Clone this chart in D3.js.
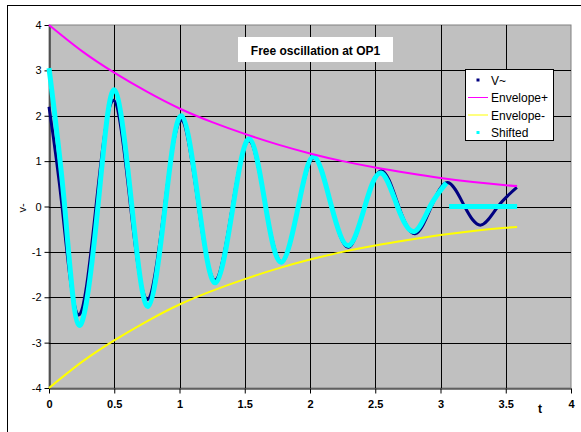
<!DOCTYPE html>
<meta charset='utf-8'>
<style type="text/css">
	body { margin: 0; background: #fff; }
	svg { display: block; font-family: "Liberation Sans", Arial, sans-serif; }
</style>
<body>
<div class="chart"></div>
<script src='https://cdn.jsdelivr.net/npm/d3@7/dist/d3.min.js'></script>
<script>

// V~ (start, zero crossings, extrema)
var vT   = [0, 0.1, 0.225, 0.36, 0.495, 0.625, 0.755, 0.885, 1.015, 1.145, 1.275, 1.405, 1.535, 1.66, 1.785, 1.91, 2.035, 2.165, 2.295, 2.42, 2.55, 2.68, 2.805, 2.93, 3.055, 3.185, 3.31, 3.44, 3.585];
var vVal = [2.2, 0, -2.39, 0, 2.34, 0, -2.05, 0, 1.9, 0, -1.62, 0, 1.45, 0, -1.22, 0, 1.08, 0, -0.9, 0, 0.79, 0, -0.6, 0, 0.53, 0, -0.41, 0, 0.42];

// Shifted
var sT   = [0, 0.12, 0.232, 0.375, 0.5, 0.635, 0.76, 0.89, 1.015, 1.15, 1.276, 1.41, 1.536, 1.66, 1.78, 1.91, 2.03, 2.165, 2.296, 2.42, 2.543, 2.67, 2.798, 2.92, 3.045];
var sVal = [3.05, 0, -2.62, 0, 2.57, 0, -2.2, 0, 2.0, 0, -1.68, 0, 1.49, 0, -1.23, 0, 1.1, 0, -0.86, 0, 0.74, 0, -0.55, 0, 0.52];
var sTailT   = [3.066, 3.587];
var sTailVal = [0, 0];

// envelopes
var envT     = [0, 0.25, 0.5, 0.75, 1, 1.25, 1.5, 1.75, 2, 2.25, 2.5, 2.75, 3, 3.25, 3.5, 3.587];
var envPlus  = [4, 3.43, 2.95, 2.53, 2.16, 1.86, 1.6, 1.37, 1.17, 1.0, 0.86, 0.74, 0.63, 0.54, 0.47, 0.45];
var envMinus = [-4, -3.43, -2.95, -2.53, -2.16, -1.86, -1.6, -1.37, -1.17, -1.0, -0.86, -0.74, -0.63, -0.54, -0.47, -0.45];

var xTicks = [0, 0.5, 1, 1.5, 2, 2.5, 3, 3.5, 4];
var yTicks = [-4, -3, -2, -1, 0, 1, 2, 3, 4];
var legendNames = ['V~', 'Envelope+', 'Envelope-', 'Shifted'];
var colors = ['#000080', '#FF00FF', '#FFFF00', '#00FFFF'];

var svg = d3.select('.chart')
	.append('svg')
	.attr('width', 581)
	.attr('height', 432);

var x = d3.scaleLinear().domain([0, 4]).range([49, 571]);
var y = d3.scaleLinear().domain([-4, 4]).range([388, 25]);

// chart border
svg.append('rect')
	.attr('x', 7.5).attr('y', 5.5)
	.attr('width', 700).attr('height', 600)
	.attr('fill', 'white')
	.attr('stroke', 'black');

// plot area
svg.append('rect')
	.attr('x', x(0)).attr('y', y(4))
	.attr('width', x(4) - x(0)).attr('height', y(-4) - y(4))
	.attr('fill', '#C0C0C0')
	.attr('stroke', '#808080');

// grid
svg.append('g').selectAll('line')
	.data(xTicks.filter(function(d){ return d > 0 && d < 4; }))
	.enter().append('line')
	.attr('x1', function(d){ return Math.round(x(d)) + 0.5; })
	.attr('x2', function(d){ return Math.round(x(d)) + 0.5; })
	.attr('y1', y(4)).attr('y2', y(-4))
	.attr('stroke', 'black');

svg.append('g').selectAll('line')
	.data(yTicks.filter(function(d){ return d > -4 && d < 4; }))
	.enter().append('line')
	.attr('y1', function(d){ return Math.round(y(d)) + 0.5; })
	.attr('y2', function(d){ return Math.round(y(d)) + 0.5; })
	.attr('x1', x(0)).attr('x2', x(4))
	.attr('stroke', 'black');

// axes
var yAxis = svg.append('g')
	.attr('transform', 'translate(' + (Math.round(x(0)) + 0.5) + ',0)')
	.call(d3.axisLeft(y).tickValues(yTicks).tickSize(5).tickSizeOuter(0).tickPadding(3).tickFormat(String));
yAxis.selectAll('text').attr('font-size', 11).attr('fill', 'black').style('font-family', '"Liberation Sans", Arial, sans-serif');
yAxis.select('.domain').attr('stroke', 'black');

var xAxis = svg.append('g')
	.attr('transform', 'translate(0,' + (Math.round(y(-4)) + 0.5) + ')')
	.call(d3.axisBottom(x).tickValues(xTicks).tickSize(5).tickSizeOuter(0).tickPadding(7).tickFormat(String));
xAxis.selectAll('text').attr('font-size', 11).attr('font-weight', 'bold').attr('fill', 'black').style('font-family', '"Liberation Sans", Arial, sans-serif');
xAxis.select('.domain').attr('stroke', 'black');

// series
function pts(ts, vs){
	return ts.map(function(t, i){ return [t, vs[i]]; });
}

var line = d3.line()
	.x(function(d){ return x(d[0]); })
	.y(function(d){ return y(d[1]); })
	.curve(d3.curveNatural);

var straight = d3.line()
	.x(function(d){ return x(d[0]); })
	.y(function(d){ return y(d[1]); });

svg.append('path')
	.attr('d', line(pts(vT, vVal)))
	.attr('fill', 'none')
	.attr('stroke', colors[0])
	.attr('stroke-width', 3);

svg.append('path')
	.attr('d', line(pts(sT, sVal)))
	.attr('fill', 'none')
	.attr('stroke', colors[3])
	.attr('stroke-width', 5);

svg.append('path')
	.attr('d', straight(pts(sTailT, sTailVal)))
	.attr('fill', 'none')
	.attr('stroke', colors[3])
	.attr('stroke-width', 5);

svg.append('path')
	.attr('d', line(pts(envT, envPlus)))
	.attr('fill', 'none')
	.attr('stroke', colors[1])
	.attr('stroke-width', 2);

svg.append('path')
	.attr('d', line(pts(envT, envMinus)))
	.attr('fill', 'none')
	.attr('stroke', colors[2])
	.attr('stroke-width', 2);

// title
svg.append('rect')
	.attr('x', 238).attr('y', 37)
	.attr('width', 155).attr('height', 25)
	.attr('fill', 'white');
svg.append('text')
	.attr('x', 315.5).attr('y', 55)
	.attr('text-anchor', 'middle')
	.attr('font-size', 12)
	.attr('font-weight', 'bold')
	.text('Free oscillation at OP1');

// axis titles
svg.append('text')
	.attr('transform', 'translate(26,208) rotate(-90)')
	.attr('text-anchor', 'middle')
	.attr('font-size', 11)
	.text('v-');
svg.append('text')
	.attr('x', 540).attr('y', 413)
	.attr('text-anchor', 'middle')
	.attr('font-size', 12)
	.attr('font-weight', 'bold')
	.text('t');

// legend
var legend = svg.append('g');
legend.append('rect')
	.attr('x', 465.5).attr('y', 69.5)
	.attr('width', 88).attr('height', 71)
	.attr('fill', 'white')
	.attr('stroke', 'black');

var rows = legend.selectAll('g.row')
	.data(legendNames)
	.enter().append('g')
	.attr('class', 'row')
	.attr('transform', function(d, i){ return 'translate(0,' + (80 + i * 17.5) + ')'; });

rows.each(function(d, i){
	var g = d3.select(this);
	if (i === 1 || i === 2) {
		g.append('line')
			.attr('x1', 468).attr('x2', 488)
			.attr('y1', 0).attr('y2', 0)
			.attr('stroke', colors[i]).attr('stroke-width', 1);
	} else {
		g.append('rect')
			.attr('x', 476.5).attr('y', -1.5)
			.attr('width', 3).attr('height', 3)
			.attr('fill', i === 0 ? colors[0] : colors[3]);
	}
	g.append('text')
		.attr('x', 491).attr('y', 4.5)
		.attr('font-size', 12)
		.text(d);
});

</script>
</body>
